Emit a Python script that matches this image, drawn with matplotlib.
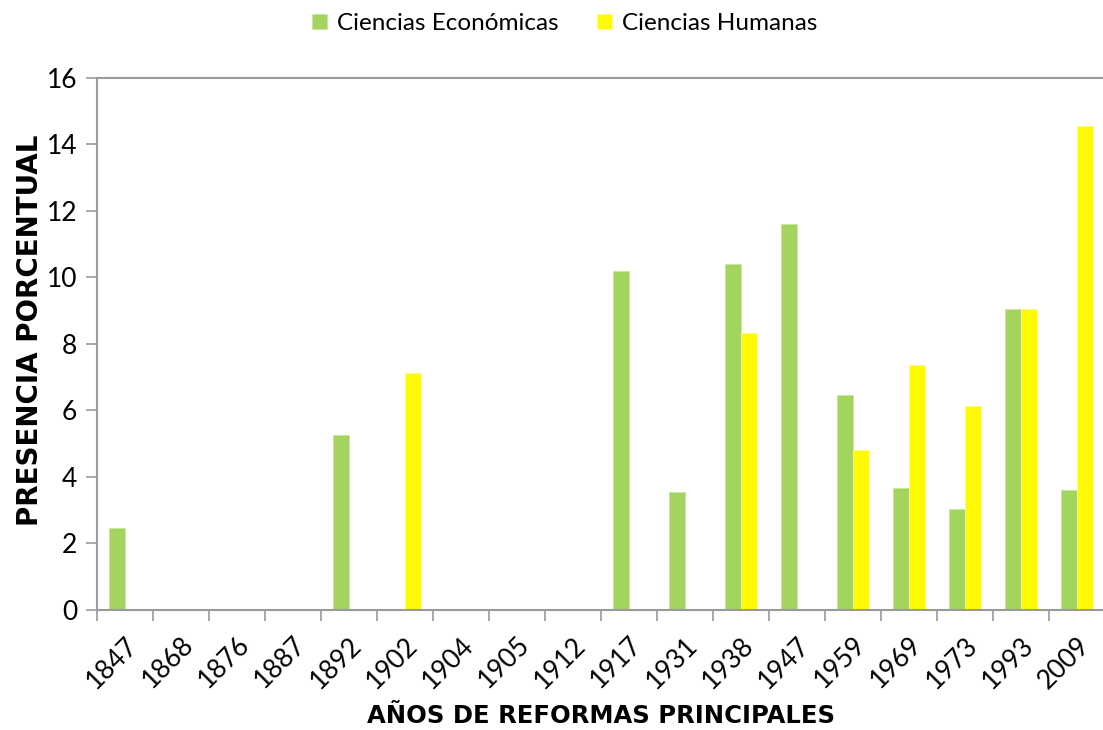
import numpy as np
import matplotlib.pyplot as plt

years = ['1847', '1868', '1876', '1887', '1892', '1902', '1904', '1905', '1912',
         '1917', '1931', '1938', '1947', '1959', '1969', '1973', '1993', '2009']
economicas = [2.47, 0, 0, 0, 5.27, 0, 0, 0, 0,
              10.2, 3.56, 10.41, 11.61, 6.46, 3.66, 3.03, 9.05, 3.6]
humanas = [0, 0, 0, 0, 0, 7.13, 0, 0, 0,
           0, 0, 8.33, 0, 4.81, 7.37, 6.12, 9.05, 14.56]

green = '#A2D45E'
yellow = '#FFFA00'
grey = '#9a9a9a'

plt.rcParams['font.family'] = ['Lato', 'DejaVu Sans']

fig = plt.figure(figsize=(11.03, 7.30), dpi=100)
ax = fig.add_axes([0.0877, 0.1644, 0.9138, 0.7288])

x = np.arange(len(years))
w = 0.286
eco = np.array(economicas)
hum = np.array(humanas)
ax.bar(x[eco > 0] - w / 2, eco[eco > 0], w, color=green, edgecolor='#c8e6a0',
       linewidth=0.6, label='Ciencias Económicas')
ax.bar(x[hum > 0] + w / 2, hum[hum > 0], w, color=yellow, edgecolor='#fffc90',
       linewidth=0.6, label='Ciencias Humanas')

ax.set_xlim(-0.5, len(years) - 0.5)
ax.set_ylim(0, 16)
ax.set_yticks(range(0, 17, 2))
ax.set_xticks(x)
ax.set_xticklabels(years, rotation=45, ha='right', rotation_mode='anchor', fontsize=19)
ax.set_xticks(np.arange(-0.5, len(years), 1), minor=True)
ax.tick_params(axis='x', which='major', length=0, pad=16)
ax.tick_params(axis='x', which='minor', length=8, color=grey, width=1.2, direction='out')
ax.tick_params(axis='y', length=8, color=grey, width=1.2, labelsize=19, pad=6)

for s in ax.spines.values():
    s.set_color(grey)
    s.set_linewidth(1.5)

fig.text(30 / 1103, 1 - 330 / 730, 'PRESENCIA PORCENTUAL', rotation=90,
         ha='center', va='center', fontsize=20, fontweight='bold', family='DejaVu Sans')
fig.text(0.545, 1 - 716 / 730, 'AÑOS DE REFORMAS PRINCIPALES',
         ha='center', va='center', fontsize=17.5, fontweight='bold', family='DejaVu Sans')

fig.legend(loc='upper center', bbox_to_anchor=(0.512, 1.012), ncol=2, frameon=False,
           fontsize=17.5, handlelength=0.6, handleheight=0.6, handletextpad=0.4,
           columnspacing=1.6)

fig.savefig('out.png', dpi=100)
